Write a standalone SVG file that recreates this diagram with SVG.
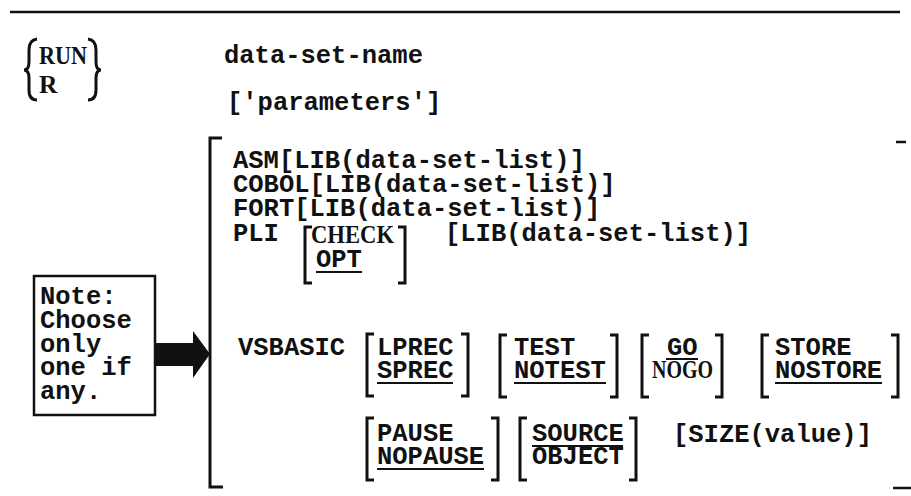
<svg xmlns="http://www.w3.org/2000/svg" width="911" height="496" viewBox="0 0 911 496">
<style>
text{font-family:"Liberation Mono","Courier New",monospace;font-size:25.5px;font-weight:bold;fill:#111}
.serif{font-family:"Liberation Serif","Times New Roman",serif}
.br{fill:none;stroke:#111;stroke-width:3}
.ul{stroke:#111;stroke-width:2}
.rule{stroke:#111;stroke-width:2.5}
</style>
<rect width="911" height="496" fill="#fff"/>
<line class="rule" x1="10" y1="12" x2="900" y2="12"/>
<g id="run">
<path class="br" d="M37 39 Q29 40 29 50 V62 Q29 70 24 70 Q29 70 29 78 V90 Q29 100 37 100"/>
<path class="br" d="M88 39 Q96 40 96 50 V62 Q96 70 101 70 Q96 70 96 78 V90 Q96 100 88 100"/>
<text class="serif" x="39" y="64" font-size="23" textLength="48" lengthAdjust="spacingAndGlyphs">RUN</text>
<text class="serif" x="39" y="93" font-size="23">R</text>
</g>
<g id="dsname"><text x="224" y="63">data-set-name</text></g>
<g id="params"><text x="227" y="110">['parameters']</text></g>
<g id="options">
<path class="br" d="M222 138 H210 V487 H223"/>
<line class="rule" x1="896" y1="142" x2="906" y2="142"/>
<line class="rule" x1="893" y1="488" x2="911" y2="488"/>
<text x="233" y="168">ASM[LIB(data-set-list)]</text>
<text x="233" y="192">COBOL[LIB(data-set-list)]</text>
<text x="233" y="216">FORT[LIB(data-set-list)]</text>
<text x="233" y="241">PLI</text>
<g id="pli-opt">
<path class="br" d="M312 227 H305 V283 H312"/>
<path class="br" d="M398 227 H405 V283 H398"/>
<text class="serif" x="311" y="243" font-size="24" textLength="83" lengthAdjust="spacingAndGlyphs">CHECK</text>
<text x="316" y="267">OPT</text>
<line class="ul" x1="316" y1="272" x2="362" y2="272"/>
</g>
<text x="445" y="241">[LIB(data-set-list)]</text>
<text x="238" y="355">VSBASIC</text>
<g id="prec">
<path class="br" d="M374 334 H367 V396 H374"/>
<path class="br" d="M461 334 H468 V396 H461"/>
<text x="377" y="355">LPREC</text>
<text x="377" y="378">SPREC</text>
<line class="ul" x1="377" y1="383" x2="453" y2="383"/>
</g>
<g id="test">
<path class="br" d="M507 335 H500 V397 H507"/>
<path class="br" d="M610 335 H617 V397 H610"/>
<text x="514" y="355">TEST</text>
<text x="514" y="378">NOTEST</text>
<line class="ul" x1="514" y1="383" x2="606" y2="383"/>
</g>
<g id="go">
<path class="br" d="M649 335 H642 V397 H649"/>
<path class="br" d="M715 335 H722 V397 H715"/>
<text x="667" y="355">GO</text>
<line class="ul" x1="666" y1="359" x2="698" y2="359"/>
<text class="serif" x="652" y="378" font-size="24" textLength="61" lengthAdjust="spacingAndGlyphs">NOGO</text>
</g>
<g id="store">
<path class="br" d="M769 335 H762 V397 H769"/>
<path class="br" d="M891 335 H898 V397 H891"/>
<text x="775" y="355">STORE</text>
<text x="775" y="378">NOSTORE</text>
<line class="ul" x1="775" y1="383" x2="882" y2="383"/>
</g>
<g id="pause">
<path class="br" d="M374 418 H367 V480 H374"/>
<path class="br" d="M491 418 H498 V480 H491"/>
<text x="377" y="441">PAUSE</text>
<text x="377" y="464">NOPAUSE</text>
<line class="ul" x1="377" y1="469" x2="484" y2="469"/>
</g>
<g id="source">
<path class="br" d="M527 418 H520 V480 H527"/>
<path class="br" d="M629 418 H636 V480 H629"/>
<text x="532" y="441">SOURCE</text>
<line class="ul" x1="532" y1="446" x2="623" y2="446"/>
<text x="532" y="464">OBJECT</text>
</g>
<g id="size"><text x="673" y="442">[SIZE(value)]</text></g>
</g>
<g id="note">
<rect x="34" y="276" width="121" height="139" fill="#fff" stroke="#111" stroke-width="2.5"/>
<text x="40" y="304">Note:</text>
<text x="40" y="328">Choose</text>
<text x="40" y="352">only</text>
<text x="40" y="375">one if</text>
<text x="40" y="399">any.</text>
</g>
<g id="connectors">
<polygon points="155,343 193,343 193,331 210,354 193,378 193,366 155,366" fill="#111"/>
</g>
</svg>
